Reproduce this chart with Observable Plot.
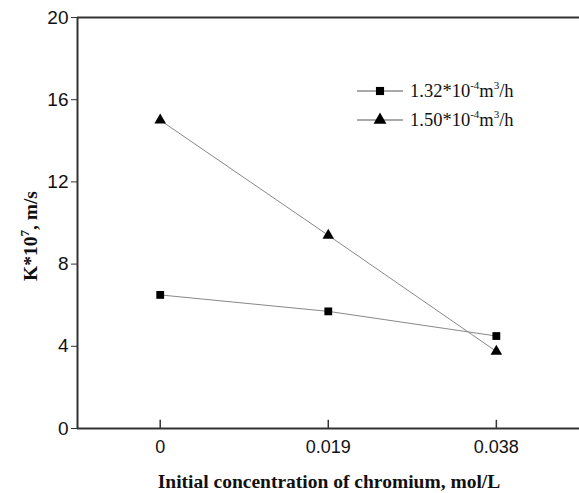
<!DOCTYPE html>
<html><head><meta charset="utf-8">
<script src="https://cdn.jsdelivr.net/npm/d3@7"></script>
<script src="https://cdn.jsdelivr.net/npm/@observablehq/plot@0.6"></script>
<style>
body{margin:0;background:#fff;}
#chart{position:relative;width:579px;height:493px;}
</style>
</head><body><div id="chart"></div>
<script>
const concentrations = [0, 0.019, 0.038];
const tickLabels = ["0", "0.019", "0.038"];
const series132 = [6.5, 5.7, 4.5];
const series150 = [15.0, 9.4, 3.75];
const seriesNames = ["1.32", "1.50"];
const yTicks = [0, 4, 8, 12, 16, 20];

const data = [
  ...concentrations.map((c, i) => ({c, k: series132[i], s: seriesNames[0]})),
  ...concentrations.map((c, i) => ({c, k: series150[i], s: seriesNames[1]}))
];
const sq = data.filter(d => d.s === seriesNames[0]);
const tr = data.filter(d => d.s === seriesNames[1]);

const axisColor = "#333";
const plot = Plot.plot({
  width: 579, height: 493,
  marginLeft: 77, marginRight: 0, marginTop: 17, marginBottom: 65,
  style: {fontFamily: "Liberation Sans, Arial, sans-serif", fontSize: "18px", color: "#111", background: "#fff"},
  x: {type: "linear", domain: [-0.00935, 0.0474]},
  y: {domain: [0, 20]},
  marks: [
    Plot.ruleY([20], {stroke: axisColor, strokeWidth: 2}),
    Plot.ruleY([0], {stroke: axisColor, strokeWidth: 2}),
    Plot.ruleX([-0.00935], {stroke: axisColor, strokeWidth: 2}),
    Plot.ruleX(concentrations, {y1: 0, y2: 0.4, stroke: axisColor, strokeWidth: 1.5}),
    Plot.axisY({ticks: yTicks, tickSize: 6, tickPadding: 3, label: null, stroke: axisColor, fontSize: 19, tickFormat: d => String(d)}),
    Plot.axisX({ticks: concentrations, tickSize: 0, tickPadding: 12, label: null, tickFormat: d => tickLabels[concentrations.indexOf(d)]}),
    Plot.line(sq, {x: "c", y: "k", stroke: "#888", strokeWidth: 1}),
    Plot.line(tr, {x: "c", y: "k", stroke: "#888", strokeWidth: 1}),
    Plot.dot(sq, {x: "c", y: "k", symbol: "square", r: 4.4, fill: "#000"}),
    Plot.dot(tr, {x: "c", y: "k", symbol: "triangle", r: 4.3, fill: "#000"})
  ]
});
const svg = d3.select(plot);
const serif = "Liberation Serif, Times New Roman, serif";
// axis titles
svg.append("text").attr("x", 329).attr("y", 488).attr("text-anchor", "middle")
  .attr("font-family", serif).attr("font-weight", "bold").attr("font-size", 19.5).attr("fill", "#111")
  .text("Initial concentration of chromium, mol/L");
const yl = svg.append("text").attr("transform", "translate(37,236) rotate(-90)").attr("text-anchor", "middle")
  .attr("font-family", serif).attr("font-weight", "bold").attr("font-size", 19.5).attr("fill", "#111");
yl.append("tspan").text("K*10");
yl.append("tspan").attr("dy", -8).attr("font-size", 13).text("7");
yl.append("tspan").attr("dy", 8).text(", m/s");
// legend
const legendRows = [{name: seriesNames[0], sym: d3.symbolSquare, size: 66, y: 91}, {name: seriesNames[1], sym: d3.symbolTriangle, size: 72, y: 120}];
for (const r of legendRows) {
  const g = svg.append("g");
  g.append("line").attr("x1", 357).attr("x2", 403).attr("y1", r.y).attr("y2", r.y).attr("stroke", "#555").attr("stroke-width", 1);
  g.append("path").attr("d", d3.symbol(r.sym, r.size)()).attr("transform", `translate(380,${r.y})`).attr("fill", "#000");
  const t = g.append("text").attr("x", 410).attr("y", r.y + 6).attr("text-anchor", "start")
    .attr("font-family", serif).attr("font-size", 18.5).attr("fill", "#111");
  t.append("tspan").text(r.name + "*10");
  t.append("tspan").attr("dy", -8).attr("font-size", 11).text("-4");
  t.append("tspan").attr("dy", 8).text("m");
  t.append("tspan").attr("dy", -8).attr("font-size", 11).text("3");
  t.append("tspan").attr("dy", 8).text("/h");
}
document.getElementById("chart").appendChild(plot);
</script>
</body></html>
